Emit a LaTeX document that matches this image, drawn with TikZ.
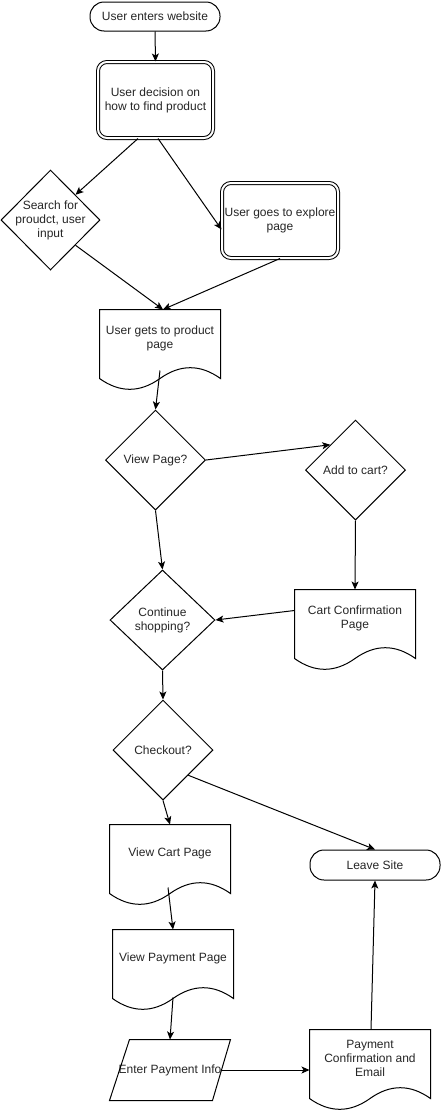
\documentclass[tikz,border=0pt]{standalone}
\usepackage{fontspec}
\setmainfont{Liberation Sans}
\usetikzlibrary{shapes.geometric,calc,arrows.meta}
\tikzset{
 base/.style={font=\fontsize{12}{14}\selectfont, align=center, line width=1pt, text=black!85},
 term/.style={base, draw, rectangle, rounded corners=14pt, minimum width=130pt, minimum height=29pt, inner sep=0pt},
 dbl/.style={base, draw, double, double distance=2pt, rounded corners=9pt, inner sep=0pt},
 dia/.style={base, draw, diamond, inner sep=-15pt, minimum width=100pt, minimum height=100pt},
 docnode/.style={base, rectangle, inner sep=0pt, minimum width=120pt, minimum height=56pt},
 ionode/.style={base, rectangle, inner sep=0pt, minimum width=120pt, minimum height=60pt},
 arr/.style={line width=1pt, -{Stealth[length=8pt,width=7pt,inset=2pt]}},
 shapeline/.style={line width=1pt}
}
\newcommand{\docshape}[1]{%
 \draw[shapeline] (#1.north west) -- (#1.north east) -- ($(#1.south east)+(0,12)$)
  .. controls ($(#1.south west)!0.8333!(#1.south east)+(0,-2.4)$) and ($(#1.south west)!0.6667!(#1.south east)+(0,-2.4)$) .. ($(#1.south)+(0,12)$)
  .. controls ($(#1.south west)!0.3333!(#1.south east)+(0,26.4)$) and ($(#1.south west)!0.1667!(#1.south east)+(0,26.4)$) .. ($(#1.south west)+(0,12)$) -- cycle;}
\begin{document}
\begin{tikzpicture}[x=1pt,y=-1pt]
\fill[white] (0,0) rectangle (441,1111);
\useasboundingbox (0,0) rectangle (441,1111);
% nodes
\node[term] (start) at (155,16.5) {User enters website};
\node[dbl, minimum width=115pt, minimum height=76pt] (dec) at (155.5,100) {User decision on\\how to find product};
\node[dia, minimum width=99pt] (search) at (50.5,220) {Search for\\proudct, user\\input};
\node[dbl, minimum width=116pt, minimum height=75pt] (explore) at (280,220.5) {User goes to explore\\page};
\node[docnode] (prod) at (160,338) {User gets to product\\page};
\docshape{prod}
\node[dia] (view) at (155.5,460) {View Page?};
\node[dia] (add) at (355.5,470) {Add to cart?};
\node[dia, minimum width=105pt] (cont) at (162.5,620) {Continue\\shopping?};
\node[docnode] (cartconf) at (355,618) {Cart Confirmation\\Page};
\docshape{cartconf}
\node[dia] (checkout) at (163,750) {Checkout?};
\node[docnode] (viewcart) at (170,853) {View Cart Page};
\docshape{viewcart}
\node[term, minimum height=30pt] (leave) at (375,865) {Leave Site};
\node[docnode] (viewpay) at (173,958) {View Payment Page};
\docshape{viewpay}
\node[ionode] (enterpay) at (170,1070) {Enter Payment Info};
\draw[shapeline] ($(enterpay.north west)+(20,0)$) -- (enterpay.north east) -- ($(enterpay.south east)+(-18,0)$) -- (enterpay.south west) -- cycle;
\node[docnode] (payconf) at (370,1058) {Payment\\Confirmation and\\Email};
\docshape{payconf}
% edges
\draw[arr] (start.south) -- (dec.north);
\draw[arr] ($(dec.south)+(-17.5,0)$) -- (search.north east);
\draw[arr] ($(dec.south)+(2.5,0)$) -- ($(explore.west)+(0,9)$);
\draw[arr] (search.south east) -- ($(prod.north)+(3,0)$);
\draw[arr] (explore.south) -- ($(prod.north)+(3,0)$);
\draw[arr] ($(prod.south)+(0,4)$) -- (view.north);
\draw[arr] (view.east) -- (add.north west);
\draw[arr] (view.south) -- (cont.north);
\draw[arr] (add.south) -- (cartconf.north);
\draw[arr] ($(cartconf.north west)+(0,21)$) -- (cont.east);
\draw[arr] (cont.south) -- (checkout.north);
\draw[arr] (checkout.south) -- (viewcart.north);
\draw[arr] (checkout.south east) -- (leave.north);
\draw[arr] ($(viewcart.south)+(-2,6)$) -- (viewpay.north);
\draw[arr] ($(viewpay.south)+(0,11)$) -- (enterpay.north);
\draw[arr] ($(enterpay.east)+(-10,0)$) -- ($(payconf.west)+(0,12)$);
\draw[arr] ($(payconf.north)+(1,0)$) -- (leave.south);
\end{tikzpicture}
\end{document}
